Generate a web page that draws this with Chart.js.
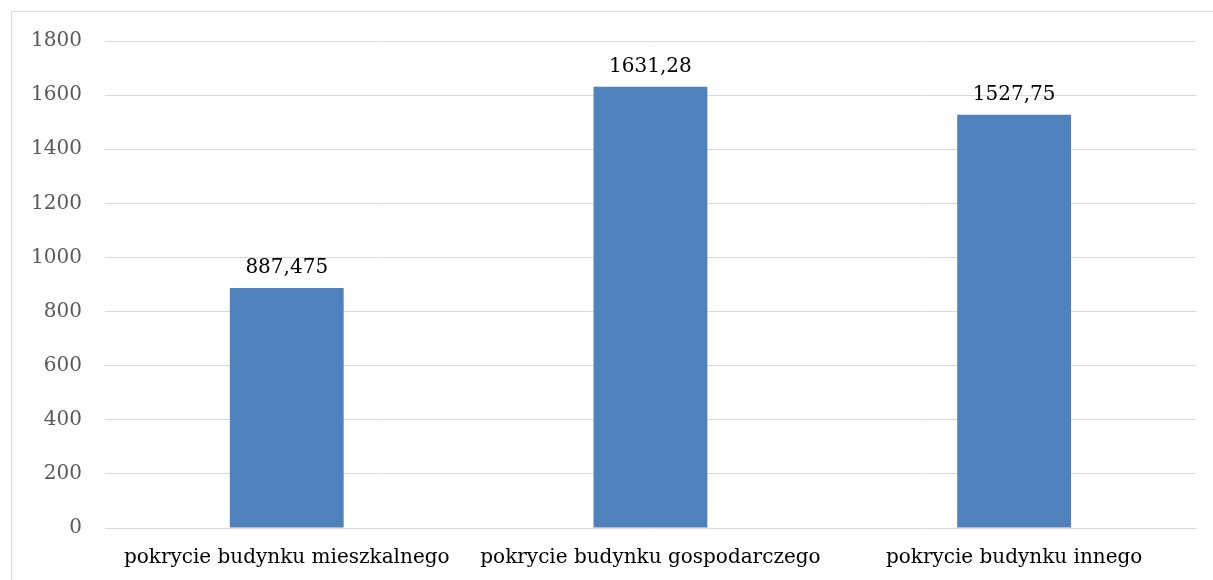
<!DOCTYPE html>
<html>
<head>
<meta charset="utf-8">
<script src="https://cdn.jsdelivr.net/npm/chart.js@4/dist/chart.umd.min.js"></script>
<style>
  html, body { margin: 0; padding: 0; background: #fff; }
  #wrap { position: relative; width: 1213px; height: 580px; }
</style>
</head>
<body>
<div id="wrap"><canvas id="chart"></canvas></div>
<script>
const categories = [
  'pokrycie budynku mieszkalnego',
  'pokrycie budynku gospodarczego',
  'pokrycie budynku innego',
];
const values = [887.475, 1631.28, 1527.75];
const valueLabels = ['887,475', '1631,28', '1527,75'];
const yTicks = [0, 200, 400, 600, 800, 1000, 1200, 1400, 1600, 1800];

const serif = '"DejaVu Serif", "Liberation Serif", serif';

// outer frame of the chart area, like the office chart border
const framePlugin = {
  id: 'frame',
  beforeDraw(chart) {
    const { ctx } = chart;
    ctx.save();
    ctx.fillStyle = '#fff';
    ctx.fillRect(0, 0, chart.width, chart.height);
    ctx.strokeStyle = '#d9d9d9';
    ctx.lineWidth = 1;
    ctx.strokeRect(11.5, 11.5, chart.width + 20, chart.height + 20);
    ctx.restore();
  },
};

// value labels above bars
const valueLabelPlugin = {
  id: 'valueLabels',
  afterDatasetsDraw(chart) {
    const { ctx } = chart;
    const meta = chart.getDatasetMeta(0);
    ctx.save();
    ctx.font = '20px ' + serif;
    ctx.fillStyle = '#000';
    ctx.textAlign = 'center';
    ctx.textBaseline = 'bottom';
    meta.data.forEach((bar, i) => {
      ctx.fillText(valueLabels[i], bar.x, bar.y - 10);
    });
    ctx.restore();
  },
};

new Chart(document.getElementById('chart'), {
  type: 'bar',
  data: {
    labels: categories,
    datasets: [
      {
        data: values,
        backgroundColor: '#4f81bd',
        borderWidth: 0,
        barPercentage: 0.313,
        categoryPercentage: 1,
      },
    ],
  },
  options: {
    responsive: true,
    maintainAspectRatio: false,
    animation: false,
    layout: {
      padding: { top: 41, right: 17, bottom: 0, left: 8 },
    },
    scales: {
      y: {
        min: 0,
        max: 1800,
        afterBuildTicks: (axis) => {
          axis.ticks = yTicks.map((v) => ({ value: v }));
        },
        grid: { color: '#d9d9d9', lineWidth: 1, drawTicks: false },
        border: { display: false },
        ticks: {
          padding: 23,
          color: '#595959',
          font: { family: serif, size: 20 },
          callback: (v) => String(v),
        },
      },
      x: {
        grid: { display: false },
        border: { display: false },
        ticks: {
          padding: 10,
          color: '#000',
          font: { family: serif, size: 20 },
          maxRotation: 0,
        },
      },
    },
    plugins: {
      legend: { display: false },
      tooltip: { enabled: false },
    },
  },
  plugins: [framePlugin, valueLabelPlugin],
});
</script>
</body>
</html>
